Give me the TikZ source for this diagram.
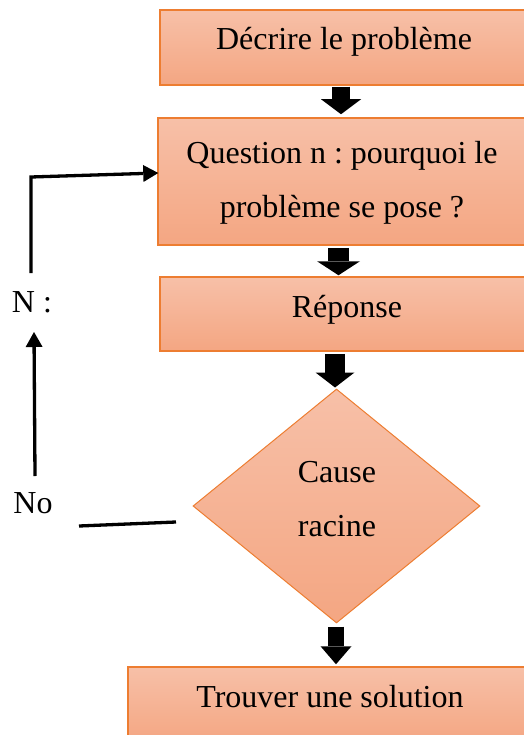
\documentclass[tikz,border=0pt]{standalone}
\usepackage{fontspec}
\setmainfont{Liberation Serif}
\frenchspacing
\usetikzlibrary{shapes.geometric,arrows.meta,calc}
\definecolor{boxtop}{RGB}{247,192,168}
\definecolor{boxbot}{RGB}{244,166,130}
\definecolor{boxline}{RGB}{237,125,49}
\begin{document}
\begin{tikzpicture}[x=1pt,y=-1pt,
  stepbox/.style={rectangle,draw=boxline,line width=1.5pt,top color=boxtop,bottom color=boxbot,inner sep=0pt},
  decision/.style={diamond,draw=boxline,line width=1pt,top color=boxtop,bottom color=boxbot,inner sep=0pt,
    minimum width=287pt,minimum height=234pt},
  label/.style={font=\fontsize{32}{54.5}\selectfont,align=center,inner sep=0pt},
  blk/.style n args={3}{draw=black,line width=#1,line cap=butt,
    arrows={-{Triangle[length=#2,width=#3,line width=0pt]}}},
  loopline/.style={draw=black,line width=3.3pt,line join=miter},
  looparrow/.style={loopline,arrows={-{Triangle[length=15pt,width=17pt,line width=0pt]}}}
]
\useasboundingbox (0,0) rectangle (523,735);

% process boxes (right edges run past the page)
\node[stepbox,minimum width=366pt,minimum height=75pt] (b1) at (343,47.5) {};
\node[stepbox,minimum width=368pt,minimum height=127pt] (b2) at (342,181.5) {};
\node[stepbox,minimum width=374pt,minimum height=74pt] (b3) at (347,314) {};
\node[decision] (d) at (336.5,506) {};
\node[stepbox,minimum width=404pt,minimum height=76pt] (b5) at (330,705) {};

% texts
\node[label,anchor=base] (t1) at (344,50) {Décrire le problème};
\node[label] (t2) at (342,183) {Question n : pourquoi le\\problème se pose ?};
\node[label,anchor=base] (t3) at (347,317) {Réponse};
\node[label] (t4) at (337,499) {Cause\\racine};
\node[label,anchor=base] (t5) at (330,707) {Trouver une solution};
\node[label,anchor=base] (no) at (33,513) {No};
\node[label,anchor=base] (nn) at (32,312) {N :};

% block arrows between the steps
\draw[blk={18pt}{15pt}{40pt}] ([xshift=-2pt,yshift=-1pt]b1.south) -- ([xshift=-1pt,yshift=3pt]b2.north);
\draw[blk={21pt}{14pt}{43pt}] ([xshift=-3.5pt,yshift=-2pt]b2.south) -- ([xshift=-8.5pt,yshift=1pt]b3.north);
\draw[blk={20pt}{15pt}{39pt}] ([xshift=-12pt,yshift=-2pt]b3.south) -- ([xshift=-1.5pt,yshift=1pt]d.north);
\draw[blk={16pt}{18pt}{31pt}] ([xshift=-0.5pt,yshift=-3pt]d.south) -- ([xshift=6pt,yshift=2pt]b5.north);

% loop back to the question
\coordinate (noend) at (79,526);
\coordinate (dnear) at (176,522);
\coordinate (upfrom) at (35,476);
\coordinate (upto) at (34,332);
\coordinate (loopstart) at (31,273);
\coordinate (loopcorner) at (31,177);
\draw[loopline] (noend) -- (dnear);
\draw[looparrow] (upfrom) -- (upto);
\draw[looparrow] (loopstart) -- (loopcorner) -- ([yshift=8.5pt,xshift=1pt]b2.west);
\end{tikzpicture}
\end{document}
